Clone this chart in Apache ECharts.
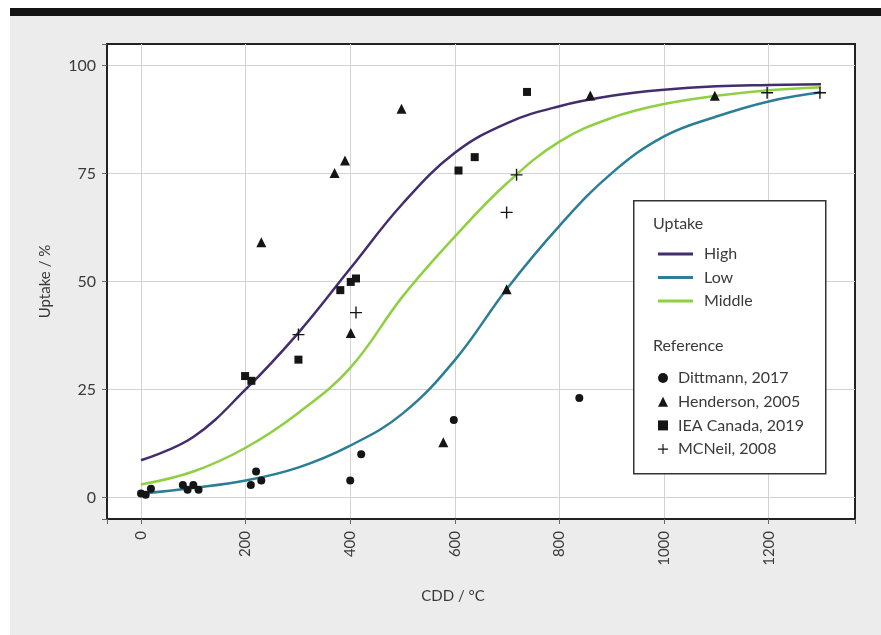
<!DOCTYPE html>
<html>
<head>
<meta charset="utf-8">
<script src="https://cdn.jsdelivr.net/npm/echarts@6/dist/echarts.min.js"></script>
<style>
html,body{margin:0;padding:0;background:#fff;width:881px;height:635px;overflow:hidden;}
#bar{position:absolute;left:10px;top:8px;width:871px;height:8px;background:#141414;}
#chart{position:absolute;left:10px;top:16px;width:871px;height:619px;background:#ececec;}
</style>
</head>
<body>
<div id="bar"></div>
<div id="chart"></div>
<script>
// ---- data ----
const curveX = [0, 100, 200, 300, 400, 500, 600, 700, 800, 900, 1000, 1100, 1200, 1300];
const highY   = [8.6, 14, 25, 38, 53, 68, 79.8, 86.7, 90.6, 93, 94.4, 95.2, 95.5, 95.7];
const lowY    = [0.9, 2.2, 3.9, 6.9, 12, 19.4, 31.8, 48.4, 62.9, 75.1, 83.6, 88.2, 91.7, 93.8];
const middleY = [3, 6, 11.5, 19.5, 30, 46.5, 60.4, 72.8, 82.4, 87.9, 91.1, 93, 94.3, 95];

const dittmann = [[0,0.9],[9,0.6],[19,2],[80,2.9],[89,1.8],[100,2.9],[110,1.8],[210,2.9],[220,6],[230,3.9],[400,3.9],[421,10],[598,17.9],[838,23]];
const henderson = [[230,59.1],[370,75.1],[390,78],[498,90],[401,38.1],[578,12.8],[699,48.2],[859,93.1],[1097,93]];
const ieaCanada = [[199,28.1],[211,27],[301,31.9],[381,48],[401,49.9],[411,50.7],[607,75.7],[638,78.8],[738,93.9]];
const mcneil = [[301,37.7],[411,42.8],[699,66],[718,74.7],[1197,93.7],[1298,93.7]];

const xTicks = [0, 200, 400, 600, 800, 1000, 1200];
const yTicks = [0, 25, 50, 75, 100];

const seriesNames = ['High', 'Low', 'Middle'];
const refNames = ['Dittmann, 2017', 'Henderson, 2005', 'IEA Canada, 2019', 'MCNeil, 2008'];

// ---- styles ----
const FONT = 'Lato';
const TXT = '#3a3a3a';
const colors = {High: '#432d6e', Low: '#2c7d96', Middle: '#8ed03f'};
const plusPath = 'path://M-0.7,-6H0.7V-0.7H6V0.7H0.7V6H-0.7V0.7H-6V-0.7H-0.7Z';

function pair(ys) { return curveX.map((x, i) => [x, ys[i]]); }

const chart = echarts.init(document.getElementById('chart'), null, {renderer: 'canvas'});

const lineSeries = [
  {name: 'High', data: pair(highY)},
  {name: 'Low', data: pair(lowY)},
  {name: 'Middle', data: pair(middleY)}
].map(s => ({
  name: s.name, type: 'line', data: s.data, smooth: 0.4, symbol: 'none',
  lineStyle: {color: colors[s.name], width: 2.5}, itemStyle: {color: colors[s.name]},
  z: 2, silent: true
}));

const scatterDefs = [
  {name: refNames[0], data: dittmann, symbol: 'circle', size: 8},
  {name: refNames[1], data: henderson, symbol: 'triangle', size: 10},
  {name: refNames[2], data: ieaCanada, symbol: 'rect', size: 8},
  {name: refNames[3], data: mcneil, symbol: plusPath, size: 12}
];
const scatterSeries = scatterDefs.map(d => ({
  name: d.name, type: 'scatter', data: d.data, symbol: d.symbol, symbolSize: d.size,
  itemStyle: {color: '#151515', opacity: 1}, z: 3, silent: true
}));

const option = {
  backgroundColor: '#ececec',
  animation: false,
  textStyle: {fontFamily: FONT},
  grid: {left: 97, right: 26, top: 28, bottom: 116, show: true, backgroundColor: '#fff', borderColor: '#222', borderWidth: 2},
  xAxis: {
    type: 'value', min: -65, max: 1365, minInterval: 200, maxInterval: 200,
    name: 'CDD / °C', nameLocation: 'middle', nameGap: 70,
    nameTextStyle: {fontFamily: FONT, fontSize: 15, color: TXT, padding: [0, 56, 0, 0]},
    axisLine: {show: true, onZero: false, lineStyle: {color: '#222', width: 2}},
    axisTick: {show: true, inside: false, length: 5, lineStyle: {color: '#666', width: 1}},
    axisLabel: {rotate: 90, margin: 12, fontFamily: FONT, fontSize: 15, color: TXT, customValues: xTicks,
                formatter: v => String(v)},
    splitLine: {show: true, showMinLine: false, showMaxLine: false, lineStyle: {color: '#d3d3d3', width: 1}}
  },
  yAxis: {
    type: 'value', min: -5, max: 105, minInterval: 25, maxInterval: 25,
    name: 'Uptake / %', nameLocation: 'middle', nameGap: 54,
    nameTextStyle: {fontFamily: FONT, fontSize: 15, color: TXT},
    axisLine: {show: true, onZero: false, lineStyle: {color: '#222', width: 2}},
    axisTick: {show: true, inside: false, length: 5, lineStyle: {color: '#666', width: 1}},
    axisLabel: {margin: 11, fontFamily: FONT, fontSize: 16, color: TXT, customValues: yTicks,
                formatter: v => String(v)},
    splitLine: {show: true, showMinLine: false, showMaxLine: false, lineStyle: {color: '#d3d3d3', width: 1}}
  },
  legend: [
    {
      data: seriesNames, orient: 'vertical', left: 643, top: 225,
      itemWidth: 35, itemHeight: 14, itemGap: 7.5, icon: 'rect',
      selectedMode: false,
      textStyle: {fontFamily: FONT, fontSize: 16, color: TXT, lineHeight: 16, padding: [0, 0, 0, 6]}
    },
    {
      data: refNames, orient: 'vertical', left: 643, top: 349,
      itemWidth: 10, itemHeight: 10, itemGap: 7.7,
      selectedMode: false,
      textStyle: {fontFamily: FONT, fontSize: 16, color: TXT, lineHeight: 16, padding: [0, 0, 0, 5]}
    }
  ],
  graphic: [
    {type: 'rect', left: 623, top: 184, z: 90, silent: true,
     shape: {width: 192, height: 273}, style: {fill: '#fff', stroke: '#333', lineWidth: 1.5}},
    {type: 'text', left: 643, top: 200, z: 101, silent: true,
     style: {text: 'Uptake', fontFamily: FONT, fontSize: 16, fill: TXT}},
    {type: 'text', left: 643, top: 322, z: 101, silent: true,
     style: {text: 'Reference', fontFamily: FONT, fontSize: 16, fill: TXT}}
  ],
  series: lineSeries.concat(scatterSeries)
};
option.legend.forEach(l => { l.z = 100; });
option.legend[0].data = seriesNames.map(n => ({name: n, icon: 'path://M0,0H35V3H0Z', itemStyle: {color: colors[n]}}));
chart.setOption(option);
</script>
</body>
</html>
